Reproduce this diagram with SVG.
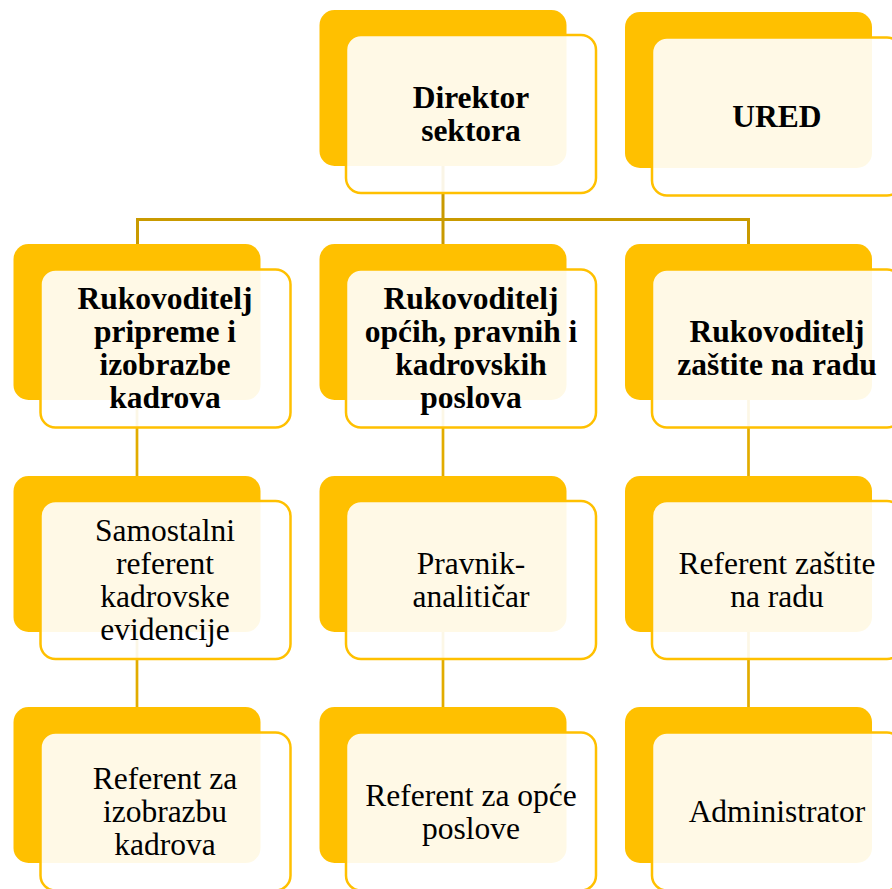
<svg xmlns="http://www.w3.org/2000/svg" width="892" height="889" viewBox="0 0 892 889">
<style>
.back{fill:#FFC000;}
.front{fill:#FFFFFF;fill-opacity:0.9;stroke:#FFC000;stroke-width:2.5;}
.t{font-family:"Liberation Serif","Times New Roman",serif;font-size:31.5px;fill:#000;text-anchor:middle;}
.b{font-weight:bold;}
.c1{stroke:#C99A00;stroke-width:3;fill:none;}
.c2{stroke:#E2AC00;stroke-width:2.7;fill:none;}
</style>
<rect width="892" height="889" fill="#FFFFFF"/>
<g id="connectors">
<path class="c1" d="M443 166 V219.5 M137.5 219.5 H748.5 M137.5 218 V244 M443 219.5 V244 M748.5 218 V244"/>
<path class="c2" d="M137 400 V476 M443 400 V476 M748.5 400 V476 M137 632 V707 M443 632 V707 M748.5 632 V707"/>
</g>
<g id="direktor">
<rect class="back" x="319.5" y="10" width="247" height="156" rx="15"/>
<rect class="front" x="346" y="35" width="250" height="158" rx="15"/>
<text class="t b" x="471" y="107.5">Direktor</text>
<text class="t b" x="471" y="140.5">sektora</text>
</g>
<g id="ured">
<rect class="back" x="625" y="12" width="247" height="156" rx="15"/>
<rect class="front" x="652" y="37.5" width="250" height="158" rx="15"/>
<text class="t b" x="777" y="127">URED</text>
</g>
<g id="rukovoditelj-pripreme">
<rect class="back" x="13.5" y="244" width="247" height="156" rx="15"/>
<rect class="front" x="40.5" y="269.5" width="250" height="158" rx="15"/>
<text class="t b" x="165" y="309">Rukovoditelj</text>
<text class="t b" x="165" y="342">pripreme i</text>
<text class="t b" x="165" y="375">izobrazbe</text>
<text class="t b" x="165" y="408">kadrova</text>
</g>
<g id="rukovoditelj-opcih">
<rect class="back" x="319.5" y="244" width="247" height="156" rx="15"/>
<rect class="front" x="346" y="269.5" width="250" height="158" rx="15"/>
<text class="t b" x="471" y="309">Rukovoditelj</text>
<text class="t b" x="471" y="342">općih, pravnih i</text>
<text class="t b" x="471" y="375">kadrovskih</text>
<text class="t b" x="471" y="408">poslova</text>
</g>
<g id="rukovoditelj-zastite">
<rect class="back" x="625" y="244" width="247" height="156" rx="15"/>
<rect class="front" x="652" y="269.5" width="250" height="158" rx="15"/>
<text class="t b" x="777" y="342">Rukovoditelj</text>
<text class="t b" x="777" y="375">zaštite na radu</text>
</g>
<g id="samostalni-referent">
<rect class="back" x="13.5" y="476" width="247" height="156" rx="15"/>
<rect class="front" x="40.5" y="501" width="250" height="158" rx="15"/>
<text class="t" x="165" y="540.5">Samostalni</text>
<text class="t" x="165" y="573.5">referent</text>
<text class="t" x="165" y="606.5">kadrovske</text>
<text class="t" x="165" y="639.5">evidencije</text>
</g>
<g id="pravnik-analiticar">
<rect class="back" x="319.5" y="476" width="247" height="156" rx="15"/>
<rect class="front" x="346" y="501" width="250" height="158" rx="15"/>
<text class="t" x="471" y="573.5">Pravnik-</text>
<text class="t" x="471" y="606.5">analitičar</text>
</g>
<g id="referent-zastite">
<rect class="back" x="625" y="476" width="247" height="156" rx="15"/>
<rect class="front" x="652" y="501" width="250" height="158" rx="15"/>
<text class="t" x="777" y="573.5">Referent zaštite</text>
<text class="t" x="777" y="606.5">na radu</text>
</g>
<g id="referent-izobrazba">
<rect class="back" x="13.5" y="707" width="247" height="156" rx="15"/>
<rect class="front" x="40.5" y="732.5" width="250" height="158" rx="15"/>
<text class="t" x="165" y="789">Referent za</text>
<text class="t" x="165" y="822">izobrazbu</text>
<text class="t" x="165" y="855">kadrova</text>
</g>
<g id="referent-opce">
<rect class="back" x="319.5" y="707" width="247" height="156" rx="15"/>
<rect class="front" x="346" y="732.5" width="250" height="158" rx="15"/>
<text class="t" x="471" y="805.5">Referent za opće</text>
<text class="t" x="471" y="838.5">poslove</text>
</g>
<g id="administrator">
<rect class="back" x="625" y="707" width="247" height="156" rx="15"/>
<rect class="front" x="652" y="732.5" width="250" height="158" rx="15"/>
<text class="t" x="777" y="822">Administrator</text>
</g>
</svg>
